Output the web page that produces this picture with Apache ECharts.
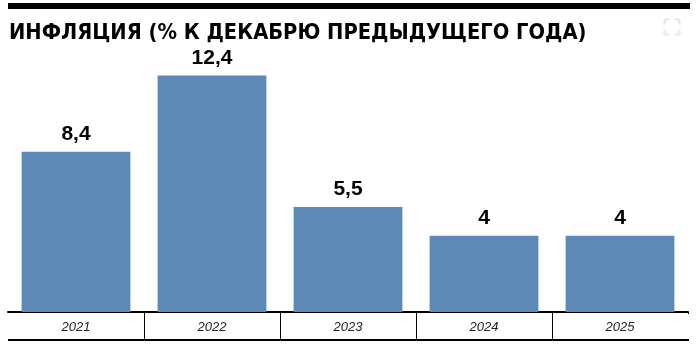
<!DOCTYPE html>
<html><head><meta charset="utf-8">
<script src="https://cdn.jsdelivr.net/npm/echarts@6/dist/echarts.min.js"></script>
<style>html,body{margin:0;padding:0;background:#fff}#c{width:700px;height:345px}</style>
</head><body><div id="c"></div>
<script>
const titleText = 'ИНФЛЯЦИЯ (% К ДЕКАБРЮ ПРЕДЫДУЩЕГО ГОДА)';
const categories = ['2021', '2022', '2023', '2024', '2025'];
const inflation = [8.4, 12.4, 5.5, 4, 4];

const chart = echarts.init(document.getElementById('c'), null, {renderer: 'canvas'});
chart.setOption({
  animation: false,
  backgroundColor: '#fff',
  title: {
    text: titleText, left: 4, top: 17,
    textStyle: {fontFamily: '"DejaVu Sans Condensed", "Liberation Sans"', fontWeight: 'bold', fontSize: 21.7, color: '#000'}
  },
  graphic: [
    {type: 'rect', shape: {x: 8, y: 3, width: 682, height: 6}, style: {fill: '#000'}},
    {type: 'line', shape: {x1: 8, y1: 340, x2: 689, y2: 340}, style: {stroke: '#000', lineWidth: 2}},
    {type: 'rect', z: 100, shape: {x: 686, y: 314, width: 6, height: 25}, style: {fill: '#fff'}},
    {type: 'group', left: 662, top: 17, children: [
      {type: 'polyline', shape: {points: [[0,5],[0,0],[5,0]]}, style: {stroke: '#e6e6e6', lineWidth: 2, fill: null}},
      {type: 'polyline', shape: {points: [[10,0],[15,0],[15,5]]}, style: {stroke: '#e6e6e6', lineWidth: 2, fill: null}},
      {type: 'polyline', shape: {points: [[0,10],[0,15],[5,15]]}, style: {stroke: '#e6e6e6', lineWidth: 2, fill: null}},
      {type: 'polyline', shape: {points: [[10,15],[15,15],[15,10]]}, style: {stroke: '#e6e6e6', lineWidth: 2, fill: null}}
    ]}
  ],
  grid: {left: 8, right: 12, top: 45, bottom: 33, containLabel: false},
  xAxis: {
    type: 'category', data: categories, boundaryGap: true,
    axisLine: {lineStyle: {color: '#000', width: 2}},
    axisTick: {show: true, length: 28, lineStyle: {color: '#000', width: 1},
      interval: function (i) { return i > 0 && i < categories.length; }},
    axisLabel: {fontFamily: 'Liberation Sans', fontStyle: 'italic', fontSize: 13, color: '#222', margin: 9}
  },
  yAxis: {type: 'value', min: 0, max: 14, show: false, splitLine: {show: false}},
  series: [{
    type: 'bar', data: inflation, barCategoryGap: '20%',
    itemStyle: {color: '#5d89b7'},
    label: {show: true, position: 'top', distance: 7,
      formatter: p => String(p.value).replace('.', ','),
      fontFamily: 'Liberation Sans', fontWeight: 'bold', fontSize: 21, color: '#000'}
  }]
});
</script></body></html>
